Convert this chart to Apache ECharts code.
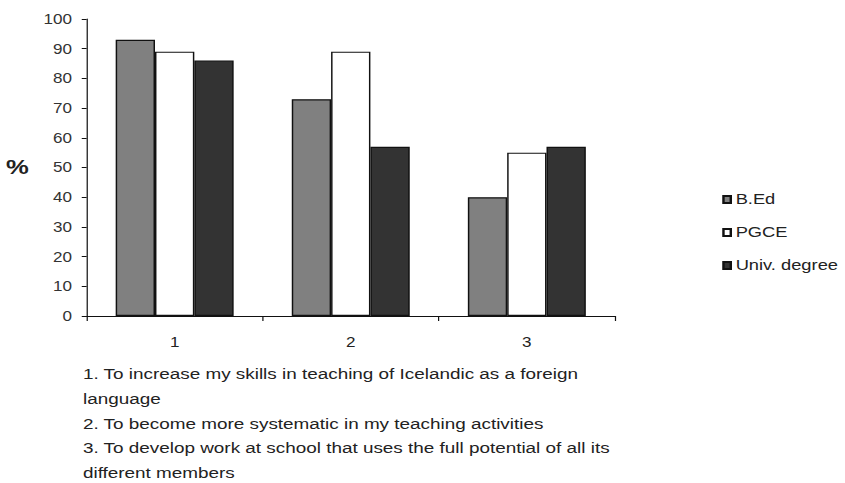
<!DOCTYPE html>
<html style="height: 100%">
<head>
    <meta charset="utf-8">
    <script src="https://cdn.jsdelivr.net/npm/echarts@6/dist/echarts.min.js"></script>
    <style>
        body { margin: 0; background: #fff; overflow: hidden; }
        /* the source picture is stretched sideways, so draw narrow and stretch */
        #container { width: 693px; height: 483px; transform: scaleX(1.22); transform-origin: 0 0; }
    </style>
</head>
<body>
    <div id="container"></div>
    <script type="text/javascript">
        var categories = ['1', '2', '3'];
        var bedValues = [93, 73, 40];
        var pgceValues = [89, 89, 55];
        var univValues = [86, 57, 57];
        var yTicks = [0, 10, 20, 30, 40, 50, 60, 70, 80, 90, 100];
        var notes = [
            '1. To increase my skills in teaching of Icelandic as a foreign',
            'language',
            '2. To become more systematic in my teaching activities',
            '3. To develop work at school that uses the full potential of all its',
            'different members'
        ];

        var font = 'Liberation Sans, Arial, sans-serif';
        var dom = document.getElementById('container');
        var myChart = echarts.init(dom, null, { renderer: 'svg' });

        function barSeries(name, data, color) {
            return {
                name: name,
                type: 'bar',
                data: data,
                barGap: '0%',
                barCategoryGap: '33%',
                itemStyle: { color: color, borderColor: '#111', borderWidth: 1.2 }
            };
        }

        var noteText = notes.map(function (line, i) {
            return {
                type: 'text',
                left: 68,
                top: 366 + i * 24.7,
                style: { text: line, font: '15.5px ' + font, fill: '#222' }
            };
        });
        noteText.push({
            type: 'text',
            left: 5,
            top: 156,
            style: { text: '%', font: 'bold 21px ' + font, fill: '#222' }
        });

        var option = {
            animation: false,
            backgroundColor: '#fff',
            grid: { left: 71, right: 189, top: 19, bottom: 167 },
            legend: {
                orient: 'vertical',
                left: 587,
                top: 187,
                itemWidth: 6,
                itemHeight: 7,
                itemGap: 18,
                icon: 'rect',
                textStyle: { fontFamily: font, fontSize: 15, color: '#222', padding: [0, 0, 0, -1] },
                data: ['B.Ed', 'PGCE', 'Univ. degree']
            },
            xAxis: {
                type: 'category',
                data: categories,
                axisLine: { lineStyle: { color: '#111', width: 1 } },
                axisTick: { show: true, length: 5, lineStyle: { color: '#111' } },
                axisLabel: { margin: 19, fontFamily: font, fontSize: 14, color: '#222' }
            },
            yAxis: {
                type: 'value',
                min: yTicks[0],
                max: yTicks[yTicks.length - 1],
                interval: yTicks[1] - yTicks[0],
                splitLine: { show: false },
                axisLine: { show: true, lineStyle: { color: '#111', width: 1 } },
                axisTick: { show: true, length: 4, lineStyle: { color: '#111' } },
                axisLabel: { margin: 12, fontFamily: font, fontSize: 14, color: '#333' }
            },
            series: [
                barSeries('B.Ed', bedValues, '#808080'),
                barSeries('PGCE', pgceValues, '#ffffff'),
                barSeries('Univ. degree', univValues, '#333333')
            ],
            graphic: noteText
        };
        myChart.setOption(option, true);
    </script>
</body>
</html>
